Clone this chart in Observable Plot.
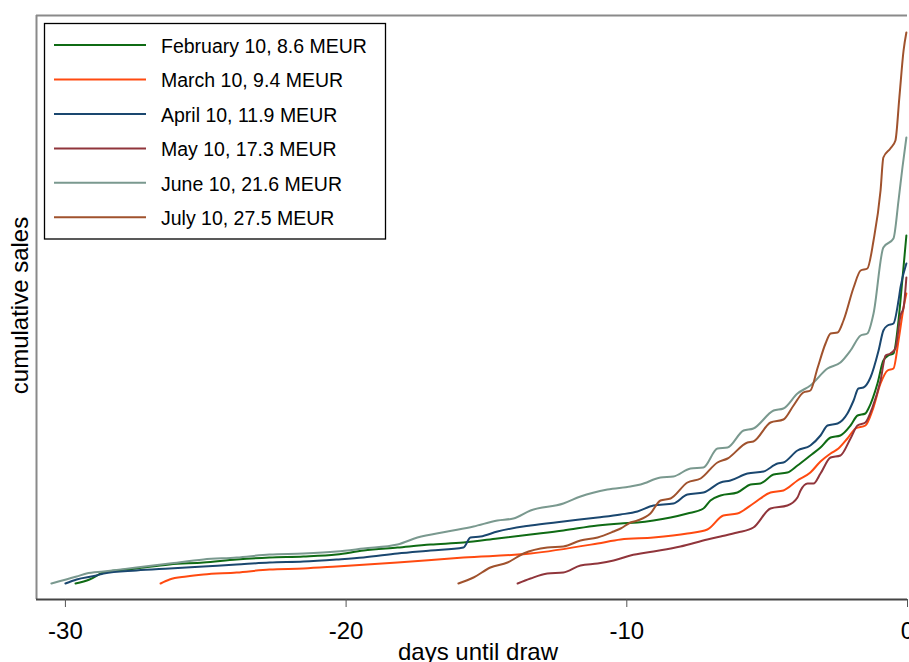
<!DOCTYPE html>
<html>
<head>
<meta charset="utf-8">
<script src="https://cdn.jsdelivr.net/npm/d3@7"></script>
<script src="https://cdn.jsdelivr.net/npm/@observablehq/plot@0.6"></script>
<style>
  body { margin: 0; background: #fff; }
  #chart { position: relative; width: 909px; height: 662px; overflow: hidden; font-family: "Liberation Sans", Arial, sans-serif; }
</style>
</head>
<body>
<div id="chart"></div>
<script>
// draws and their final totals (legend labels)
const names = [
  "February 10, 8.6 MEUR",
  "March 10, 9.4 MEUR",
  "April 10, 11.9 MEUR",
  "May 10, 17.3 MEUR",
  "June 10, 21.6 MEUR",
  "July 10, 27.5 MEUR"
];
const colors = ["#0f6b14", "#ff4a10", "#1a476f", "#90353b", "#7a998f", "#a0522d"];

// [days until draw, cumulative sales (index)]
const feb = [[-29.64,15],[-29.14,19],[-28.64,26],[-27.47,30],[-26.29,34],[-25.08,36],[-23.90,39],[-22.73,41],
  [-21.52,42],[-20.34,44],[-19.38,48],[-18.17,51],[-16.99,54],[-15.82,56],[-14.61,60],[-13.43,64],[-12.26,68],
  [-11.04,73],[-10.22,75],[-9.62,76],[-9.05,78],[-8.44,81],[-7.84,85],[-7.27,90],[-7.02,98],[-6.66,103],[-6.06,106],
  [-5.59,114],[-5.24,115],[-4.77,124],[-4.28,126],[-3.92,133],[-3.46,143],[-3.10,151],[-2.74,161],[-2.39,163],
  [-2.03,173],[-1.78,183],[-1.50,185],[-1.39,190],[-1.07,215],[-0.86,238],[-0.68,243],[-0.50,245],[-0.32,278],
  [-0.25,298],[-0.04,363]];
const mar = [[-26.61,15],[-26.29,19],[-25.69,22],[-25.08,24],[-23.90,26],[-22.73,29],[-21.52,30],[-20.34,32],
  [-18.17,36],[-15.82,41],[-13.43,45],[-11.04,55],[-10.22,59],[-9.05,61],[-7.84,65],[-7.13,69],[-6.56,83],[-6.06,85],
  [-5.49,95],[-4.88,106],[-4.42,108],[-3.92,118],[-3.46,126],[-3.10,137],[-2.74,145],[-2.46,150],[-2.14,160],
  [-1.85,170],[-1.50,173],[-1.25,188],[-0.96,215],[-0.71,228],[-0.50,230],[-0.32,258],[-0.14,291],[-0.04,305]];
const apr = [[-30.00,15],[-29.60,19],[-28.89,23],[-28.64,25],[-27.47,28],[-26.29,30],[-25.08,32],[-23.90,34],
  [-22.73,36],[-21.52,37],[-20.34,39],[-19.38,41],[-18.17,45],[-16.99,48],[-15.82,51],[-15.57,61],[-15.21,62],
  [-14.61,67],[-13.43,73],[-12.26,77],[-11.04,81],[-10.22,84],[-9.62,87],[-9.05,93],[-8.34,95],[-7.84,104],[-7.27,106],
  [-6.66,116],[-6.31,118],[-5.70,125],[-5.13,127],[-4.63,135],[-4.42,136],[-3.92,148],[-3.46,153],[-3.10,163],
  [-2.85,173],[-2.49,175],[-2.14,185],[-1.92,198],[-1.75,210],[-1.57,211],[-1.32,221],[-1.03,248],[-0.86,268],
  [-0.71,273],[-0.50,275],[-0.32,298],[-0.25,311],[-0.04,335]];
const may = [[-13.89,15],[-13.43,20],[-12.83,25],[-12.26,26],[-11.65,33],[-11.04,35],[-10.47,38],[-9.87,43],
  [-9.05,47],[-8.09,52],[-7.13,59],[-6.66,62],[-6.06,66],[-5.49,71],[-4.88,90],[-4.28,93],[-3.92,101],[-3.81,108],
  [-3.56,115],[-3.35,115],[-3.10,125],[-2.74,141],[-2.39,143],[-2.03,160],[-1.78,173],[-1.50,176],[-1.25,191],
  [-0.96,218],[-0.78,243],[-0.61,245],[-0.43,250],[-0.25,283],[-0.14,291],[-0.04,321]];
const jun = [[-30.50,15],[-29.60,22],[-29.25,25],[-28.64,27],[-27.47,31],[-26.29,35],[-25.08,39],[-23.90,41],
  [-22.73,44],[-21.52,45],[-20.34,47],[-19.38,50],[-18.17,54],[-17.46,61],[-16.39,67],[-15.46,72],[-14.61,78],
  [-14.04,80],[-13.43,88],[-12.26,95],[-11.65,102],[-10.69,109],[-9.87,112],[-9.51,114],[-8.80,121],[-8.34,122],
  [-7.73,130],[-7.27,131],[-6.77,150],[-6.41,151],[-5.84,168],[-5.49,170],[-4.77,188],[-4.42,190],[-3.92,205],
  [-3.46,213],[-2.85,230],[-2.39,236],[-2.03,248],[-1.67,263],[-1.43,265],[-1.21,285],[-0.86,351],[-0.50,360],
  [-0.32,398],[-0.18,431],[-0.04,461]];
const jul = [[-16.00,15],[-15.46,21],[-14.86,31],[-14.25,36],[-13.68,45],[-12.83,51],[-12.26,52],[-11.65,58],
  [-11.04,61],[-10.47,67],[-10.22,70],[-9.87,76],[-9.62,78],[-9.16,85],[-8.80,98],[-8.44,100],[-7.84,116],[-7.37,120],
  [-6.77,136],[-6.41,140],[-5.70,156],[-5.49,157],[-4.88,176],[-4.42,179],[-4.06,193],[-3.71,206],[-3.46,208],
  [-3.21,230],[-2.92,255],[-2.74,265],[-2.49,266],[-2.28,278],[-1.92,311],[-1.67,328],[-1.43,330],[-1.21,358],
  [-0.96,408],[-0.86,441],[-0.61,450],[-0.43,458],[-0.29,501],[-0.14,548],[-0.04,566]];

const xTicks = [-30, -20, -10, 0];
const xDomain = [-31.03, 0];
const yDomain = [-1, 583];

const series = [feb, mar, apr, may, jun, jul];
const rows = series.flatMap((pts, i) => pts.map(([day, sales]) => ({draw: names[i], day, sales})));

const chart = Plot.plot({
  width: 909,
  height: 662,
  marginTop: 15,
  marginRight: 2,
  marginBottom: 63,
  marginLeft: 36,
  style: {fontFamily: '"Liberation Sans", Arial, sans-serif', background: "white", color: "black"},
  x: {domain: xDomain},
  y: {domain: yDomain},
  color: {domain: names, range: colors},
  marks: [
    Plot.ruleY([yDomain[1]], {stroke: "#8a8a8a", strokeWidth: 2}),
    Plot.ruleX([xDomain[0]], {stroke: "#8a8a8a", strokeWidth: 2}),
    Plot.line(rows, {x: "day", y: "sales", z: "draw", stroke: "draw", strokeWidth: 2, curve: "monotone-x"}),
    Plot.ruleY([yDomain[0]], {stroke: "#444", strokeWidth: 2}),
    Plot.axisX({ticks: xTicks, tickSize: 8, tickPadding: 14, tickFormat: (d) => String(d),
      fontSize: 24, label: null, stroke: "#555", fill: "black"}),
    Plot.axisY({ticks: [], label: null}),
    Plot.text(["days until draw"], {text: (d) => d, frameAnchor: "bottom", dx: 6, dy: 60,
      lineAnchor: "bottom", fontSize: 24, fill: "black"}),
    Plot.text(["cumulative sales"], {text: (d) => d, frameAnchor: "left", dx: -16, dy: -2, rotate: -90,
      textAnchor: "middle", fontSize: 24, fill: "black"})
  ]
});

const holder = document.getElementById("chart");
holder.append(chart);

// legend box inside the plot area, with line swatches
const leg = d3.create("svg")
  .attr("width", 909).attr("height", 662)
  .style("position", "absolute").style("left", "0px").style("top", "0px");
leg.append("rect")
  .attr("x", 44.5).attr("y", 23.5).attr("width", 341).attr("height", 215.5)
  .attr("fill", "white").attr("stroke", "#000").attr("stroke-width", 1.3);
names.forEach((name, i) => {
  const y = 45 + i * 34.46;
  leg.append("line")
    .attr("x1", 54).attr("x2", 146).attr("y1", y).attr("y2", y)
    .attr("stroke", colors[i]).attr("stroke-width", 2);
  leg.append("text")
    .attr("x", 161).attr("y", y + 7.8)
    .attr("font-size", 19.5)
    .attr("font-family", '"Liberation Sans", Arial, sans-serif')
    .attr("fill", "#000")
    .text(name);
});
holder.append(leg.node());
</script>
</body>
</html>
